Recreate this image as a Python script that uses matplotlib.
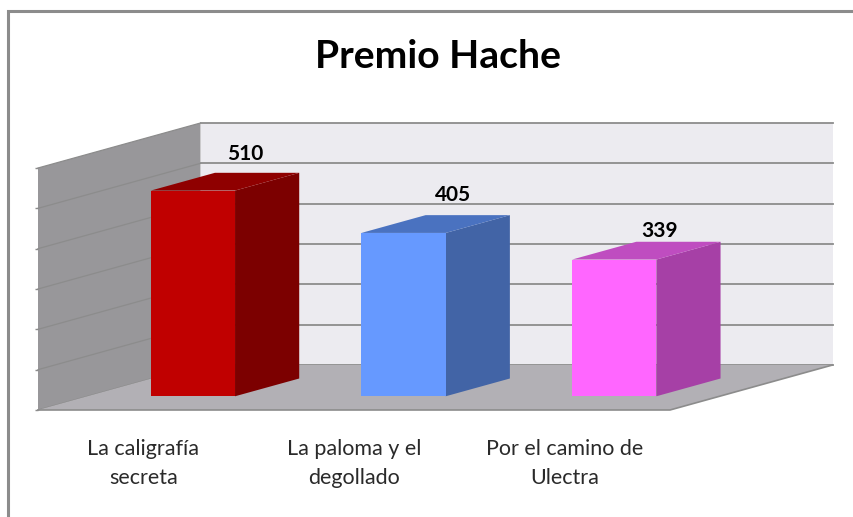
import matplotlib
matplotlib.use("Agg")
import matplotlib.pyplot as plt
from matplotlib.patches import Polygon, Rectangle

title = "Premio Hache"
categories = ["La caligrafía\nsecreta", "La paloma y el\ndegollado", "Por el camino de\nUlectra"]
values = [510, 405, 339]
axis_ticks = [0, 100, 200, 300, 400, 500, 600]

front_colors = ["#c00000", "#6699ff", "#ff66ff"]
side_colors = ["#7c0000", "#4264a6", "#a640a6"]
top_colors = ["#8f0000", "#4a72c0", "#bf4dc0"]
label_offsets = [(-12, 19), (-15, 20), (-19, 11)]

W, H = 854, 517
L, R, B, T = 38, 670, 410, 168
GREY = "#8c8c8c"
WALL, FLOOR, BACK = "#98979a", "#b2b0b5", "#ecebf0"

fig = plt.figure(figsize=(W / 100, H / 100), dpi=100, facecolor="white")
ax = fig.add_axes([L / W, 1 - B / H, (R - L) / W, (B - T) / H])
ax.set_xlim(0, 3)
ax.set_ylim(0, 600)
ax.patch.set_visible(False)
for s in ax.spines.values():
    s.set_visible(False)

# oblique depth of the 3-D box, in data units
DX = 162.5 / (R - L) * 3
DY = 45 / (B - T) * 600


def proj(x, v, d):
    return (x + d * DX, v + d * DY)


def poly(points, color, z):
    ax.add_patch(Polygon(points, closed=True, facecolor=color, edgecolor="none",
                         lw=0, zorder=z, clip_on=False))


vmax = axis_ticks[-1]
poly([proj(0, 0, 1), proj(3, 0, 1), proj(3, vmax, 1), proj(0, vmax, 1)], BACK, 1)
poly([proj(0, 0, 0), proj(0, 0, 1), proj(0, vmax, 1), proj(0, vmax, 0)], WALL, 1)
poly([proj(0, 0, 0), proj(3, 0, 0), proj(3, 0, 1), proj(0, 0, 1)], FLOOR, 3)

for v in axis_ticks:
    a, b, c = proj(0, v, 0), proj(0, v, 1), proj(3, v, 1)
    ax.plot([a[0], b[0]], [a[1], b[1]], color=GREY, lw=0.9, zorder=2, clip_on=False)
    ax.plot([b[0], c[0]], [b[1], c[1]], color=GREY, lw=1.3, zorder=2, clip_on=False)
fa, fb, fc = proj(0, 0, 0), proj(3, 0, 0), proj(3, 0, 1)
ax.plot([fa[0], fb[0], fc[0]], [fa[1], fb[1], fc[1]], color=GREY, lw=1.2, zorder=4,
        clip_on=False, solid_joinstyle="miter")

centers = [i + 0.5 for i in range(len(values))]
d0, d1 = 0.305, 0.70
bw = 0.40
for i, (c, v) in enumerate(zip(centers, values)):
    xl, xr = c - bw / 2, c + bw / 2
    ax.bar(proj(c, 0, d0)[0], v, width=bw, bottom=proj(c, 0, d0)[1], color=front_colors[i],
           zorder=6, clip_on=False)
    poly([proj(xr, 0, d0), proj(xr, 0, d1), proj(xr, v, d1), proj(xr, v, d0)], side_colors[i], 5)
    poly([proj(xl, v, d0), proj(xr, v, d0), proj(xr, v, d1), proj(xl, v, d1)], top_colors[i], 5)
    ax.annotate(str(v), xy=proj(c, v, d1), xytext=(label_offsets[i][0] * 0.72, label_offsets[i][1] * 0.72),
                textcoords="offset points", ha="center", va="center", fontsize=15,
                fontfamily="Lato", fontweight="bold", color="black", zorder=8,
                annotation_clip=False)

ax.set_xticks(centers)
ax.set_xticklabels(categories, fontfamily="Lato", fontsize=15.5, color="#2a2a2a", linespacing=1.54)
ax.tick_params(axis="x", length=0, pad=21)
ax.set_yticks(axis_ticks)
ax.set_yticklabels([])
ax.tick_params(axis="y", length=2, width=1, color=GREY)

fig.text(438 / W, 1 - 57 / H, title, ha="center", va="center", fontfamily="Lato",
         fontsize=28.2, fontweight="bold", color="black")

# chart-area frame, open towards the right and bottom image edges
fig.add_artist(Rectangle((8 / W, -0.1), 1.2, 1.1 - 10.5 / H, transform=fig.transFigure,
                         facecolor="none", edgecolor=GREY, lw=2.2, zorder=10))

fig.savefig("out.png", dpi=100, facecolor="white")
